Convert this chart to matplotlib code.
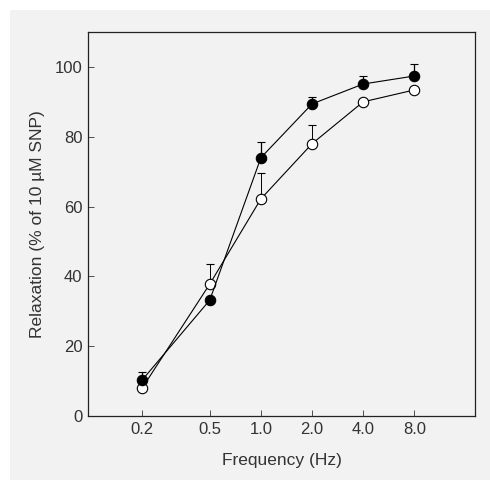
import matplotlib
matplotlib.use("Agg")
import matplotlib.pyplot as plt
from matplotlib.patches import Rectangle

plt.rcParams['font.family'] = ['Liberation Sans', 'DejaVu Sans']

freq = [0.2, 0.5, 1.0, 2.0, 4.0, 8.0]
tick_labels = ['0.2', '0.5', '1.0', '2.0', '4.0', '8.0']

# filled circles
filled_mean = [10.3, 33.2, 74.0, 89.4, 95.1, 97.4]
filled_err = [2.2, 0.0, 4.5, 1.9, 2.4, 3.4]

# open circles
open_mean = [8.0, 37.8, 62.2, 78.0, 90.0, 93.4]
open_err = [0.0, 5.7, 7.3, 5.3, 0.0, 0.0]

fig = plt.figure(figsize=(4.9, 4.8), dpi=100, facecolor='white')
fig.patches.append(Rectangle((10 / 490, 0), 1, 470 / 480, transform=fig.transFigure,
                             facecolor='#f2f2f2', edgecolor='none', zorder=-10))

ax = fig.add_axes([88 / 490, 64 / 480, 387 / 490, 384 / 480])
ax.set_facecolor('#f2f2f2')

ax.errorbar(freq, open_mean, yerr=[[0] * 6, open_err], fmt='-o',
            color='black', mfc='white', mec='black', ms=7.5, lw=0.8, mew=0.8,
            elinewidth=0.7, capsize=3, capthick=0.7, zorder=2)
ax.errorbar(freq, filled_mean, yerr=[[0] * 6, filled_err], fmt='-o',
            color='black', mfc='black', mec='black', ms=7.5, lw=0.8, mew=0.8,
            elinewidth=0.9, capsize=3, capthick=0.9, zorder=3)

ax.set_xscale('log')
ax.set_xlim(0.096, 18.2)
ax.set_ylim(0, 110)
ax.set_xticks(freq)
ax.set_xticklabels(tick_labels)
ax.minorticks_off()
ax.set_yticks([0, 20, 40, 60, 80, 100])

ax.tick_params(direction='in', length=4, width=0.6, labelsize=12, colors='#333333',
               pad=4)
for s in ax.spines.values():
    s.set_linewidth(0.9)
    s.set_color('#222222')

ax.set_xlabel('Frequency (Hz)', fontsize=12.5, color='#333333', labelpad=12)
ax.set_ylabel('Relaxation (% of 10 µM SNP)', fontsize=12.5, color='#333333', labelpad=7)

fig.savefig('out.png', dpi=100, facecolor=fig.get_facecolor())
